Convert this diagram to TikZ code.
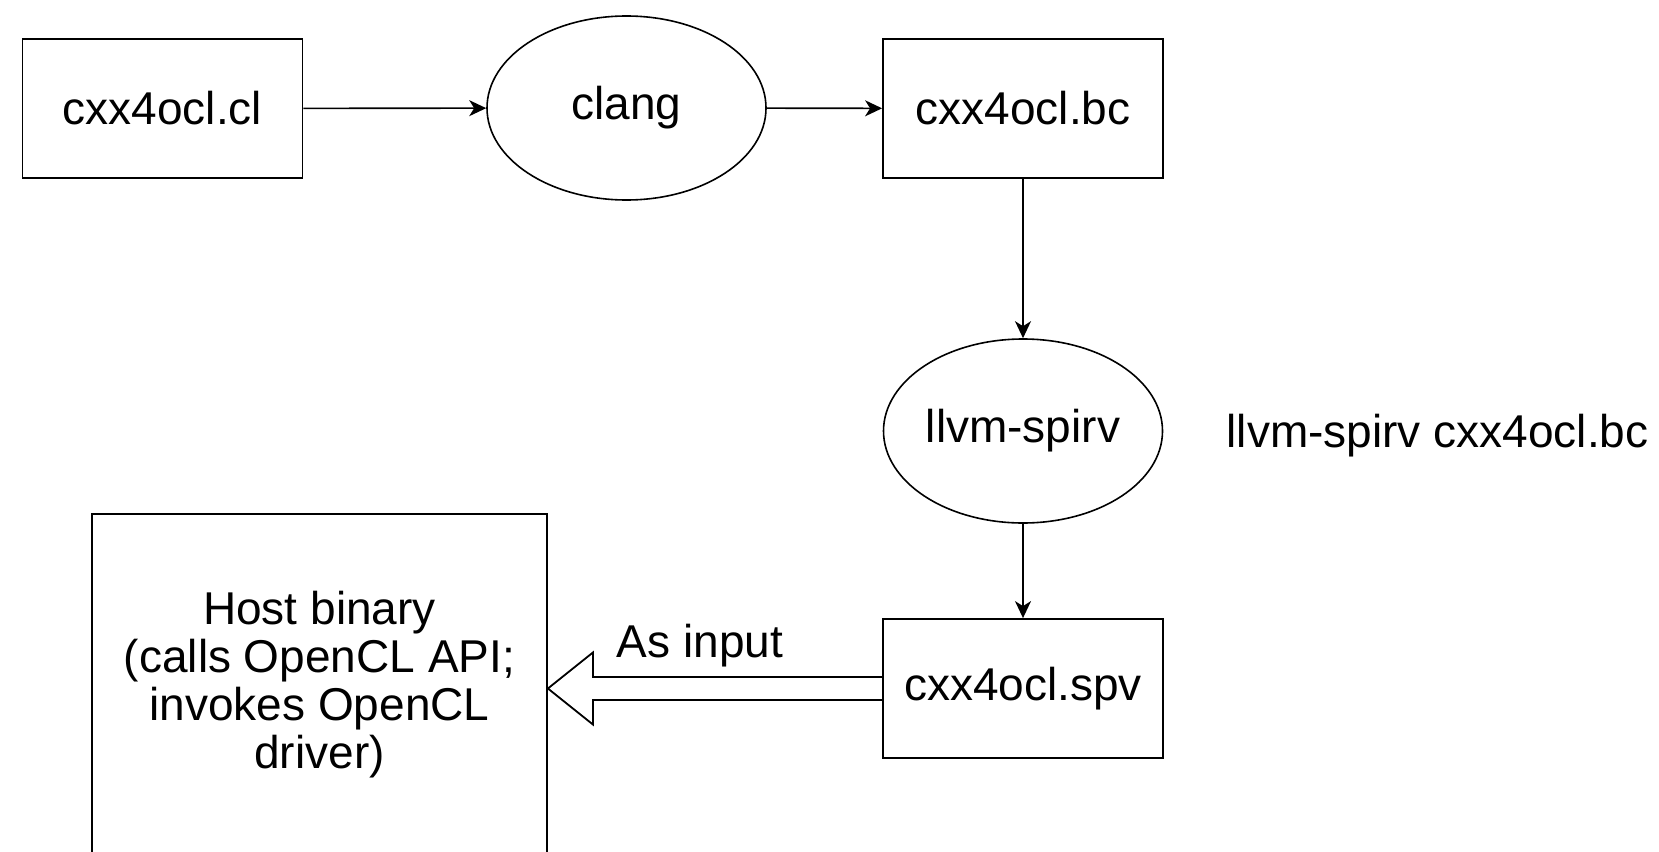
\documentclass[tikz,border=0pt]{standalone}
\usepackage{fontspec}
\setmainfont{Liberation Sans}
\usetikzlibrary{arrows.meta,calc,shapes.geometric}
\begin{document}
\begin{tikzpicture}[x=1pt,y=-1pt,
  every node/.style={font=\fontsize{46}{48}\selectfont},
  box/.style={draw, line width=1.8pt, minimum width=280pt, minimum height=139pt, inner sep=0pt},
  oval/.style={draw, ellipse, line width=1.6pt, minimum width=279pt, minimum height=184pt, inner sep=0pt},
  flow/.style={line width=1.6pt, -{Stealth[length=17pt,width=16pt,inset=5pt]}},
  hollow/.style={draw, line width=1.8pt, line join=miter}]
\useasboundingbox (0,0) rectangle (1659,851);

% pipeline stages
\node[box]  (cl)    at (162.5,108.5) {cxx4ocl.cl};
\node[oval] (clang) at (626.5,108)   {clang};
\node[box]  (bc)    at (1023,108.5)  {cxx4ocl.bc};
\node[oval] (spirv) at (1023,431)    {llvm-spirv};
\node[anchor=base east] (cmd) at (1652,447) {llvm-spirv cxx4ocl.bc};
\node[box]  (spv)   at (1023,688.5)  {cxx4ocl.spv};
\node[draw, line width=1.8pt, minimum width=455pt, minimum height=342pt, align=center]
  (host) at (319.5,685) {Host binary\\(calls OpenCL API;\\invokes OpenCL\\driver)};

% connectors
\draw[flow] (cl) -- (clang);
\draw[flow] (clang) -- (bc);
\draw[flow] (bc) -- (spirv);
\draw[flow] (spirv) -- (spv);

% hollow block arrow feeding the host binary
\coordinate (tip) at (host.east |- spv.west);
\draw[hollow] ($(spv.west)+(0,-11.5)$) -- ($(tip)+(45,-11.5)$) -- ($(tip)+(45,-36)$)
  -- (tip) -- ($(tip)+(45,36)$) -- ($(tip)+(45,11.5)$) -- ($(spv.west)+(0,11.5)$);
\node[anchor=base] (asin) at (700,657) {As input};
\end{tikzpicture}
\end{document}
